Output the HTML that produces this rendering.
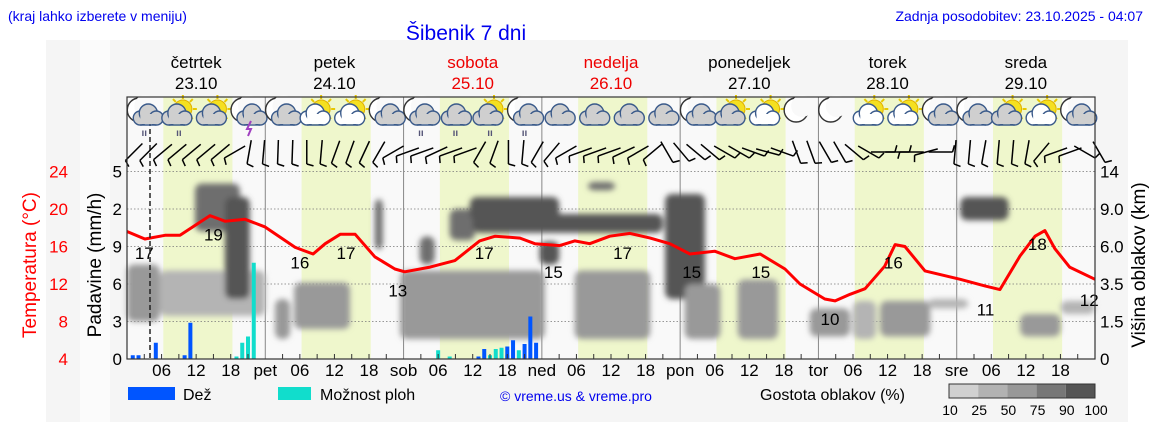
<!DOCTYPE html>
<html><head><meta charset="utf-8"><style>
html,body{margin:0;padding:0;background:#fff;}
svg{display:block;font-family:"Liberation Sans",sans-serif;}
</style></head><body>
<svg id="c" width="1152" height="443" viewBox="0 0 1152 443" xmlns="http://www.w3.org/2000/svg">
<defs><filter id="blur" x="-20%" y="-20%" width="140%" height="140%"><feGaussianBlur stdDeviation="3"/></filter></defs>
<rect x="46" y="40" width="1082" height="382" fill="#f5f5f5"/>
<rect x="80" y="40" width="30" height="382" fill="#fbfbfb"/>
<text x="8" y="21" font-size="14" fill="#0000ee">(kraj lahko izberete v meniju)</text>
<text x="466" y="40" font-size="21" fill="#0000ee" text-anchor="middle">Šibenik 7 dni</text>
<text x="1143" y="21" font-size="14" fill="#0000ee" text-anchor="end">Zadnja posodobitev: 23.10.2025 - 04:07</text>
<g id="plot"></g>
<text transform="translate(36,265) rotate(-90)" font-size="19" fill="#ff0000" text-anchor="middle">Temperatura (°C)</text>
<text transform="translate(101,265) rotate(-90)" font-size="19" fill="#000" text-anchor="middle">Padavine (mm/h)</text>
<text transform="translate(1145,265) rotate(-90)" font-size="19" fill="#000" text-anchor="middle">Višina oblakov (km)</text>
<g>
<rect x="128" y="387" width="47" height="13" fill="#0055ff"/>
<text x="183" y="400" font-size="16">Dež</text>
<rect x="278" y="387" width="33" height="13" fill="#11ddcc"/>
<text x="320" y="400" font-size="16">Možnost ploh</text>
<text x="500" y="401" font-size="14" fill="#0000ee">© vreme.us &amp; vreme.pro</text>
<text x="760" y="400" font-size="16">Gostota oblakov (%)</text>
<g id="cbar"></g>
</g>
</svg>
<script>
const NS="http://www.w3.org/2000/svg";
// ---- data ----
const days=["četrtek","petek","sobota","nedelja","ponedeljek","torek","sreda"];
const dates=["23.10","24.10","25.10","26.10","27.10","28.10","29.10"];
const dayAbbr=["","pet","sob","ned","pon","tor","sre"];
const tempHours=[0,3.1,6.6,9.2,14.4,17,20.5,23.9,29.2,32.3,34.4,37,39.6,43,46.5,48.2,52.6,56.9,61.2,63.9,68.2,70.8,75.1,77.7,80.3,83.8,87.3,90.8,94.2,97.7,102,105.5,109.9,114.2,116.8,121.1,122.9,125.5,128.1,131.5,133.3,135,138.5,144.6,148.9,151.5,155,157.6,159.3,161,163.6,168];
const tempValues=[17.6,16.8,17.2,17.2,19.3,18.7,18.9,18.1,15.9,15.2,16.3,17.3,17.3,14.9,13.6,13.3,13.8,14.5,16.6,17.1,16.9,16.3,16.1,16.6,16.3,17.1,17.4,16.9,16.3,15.2,15.5,14.7,15.2,13.6,12.0,10.4,10.2,10.9,11.5,13.9,16.2,16.0,13.4,12.5,11.8,11.4,15.0,17.1,17.7,15.8,13.8,12.5];
const labelHours=[3,15,30,38,47,62,74,86,98,110,122,133,149,158,167];
const labelTemps=[17,19,16,17,13,17,15,17,15,15,10,16,11,18,12];
const rainHours=[1,2,5,10,11,61,62,66,67,69,70,71];
const rainValues=[0.03,0.03,0.13,0.03,0.29,0.02,0.08,0.10,0.15,0.12,0.34,0.13];
const showerHours=[19,20,21,22,54,56,63,64,65,66,68];
const showerValues=[0.02,0.13,0.18,0.77,0.07,0.02,0.03,0.08,0.09,0.03,0.07];
const cloudH0=[0,5.7,11.8,17,25.7,29,43,47.4,50.8,56,59.5,60,93.4,80,71.6,77.7,96.8,106,118.5,126,130.7,139,144.6,155,162];
const cloudH1=[5.7,24,19.6,21.3,28.3,38.7,44.4,72.5,53.4,60.4,75,93,100.3,84.7,75,90.8,103,113,125.5,130,139.4,146,153,162,168];
const cloudK0=[1.5,1.8,7.2,2.7,0.8,1.2,5.8,0.8,4.8,6.5,8.1,7.1,2.7,11.5,4.8,0.8,0.8,0.8,0.9,0.8,0.9,2.2,8.1,0.9,1.9];
const cloudK1=[4.8,4.4,12.4,10.6,2.7,3.6,10.3,4.4,6.8,9.0,10.6,8.6,11.0,12.6,6.4,4.4,3.5,3.8,2.2,2.6,2.6,2.7,10.6,1.9,2.6];
const cloudD=[50,40,75,90,50,50,75,50,75,75,90,90,90,75,90,50,50,50,50,30,50,30,90,50,25];
const icons=["mcr","scr","sc","mct","mc","sw","sw","mc","mcr","cr","scr","mcr","c","c","c","c","mc","sc","sw","m","m","sw","sw","mc","mc","sc","sw","mc"];
const windDir=[135,135,140,140,140,140,140,150,100,95,92,92,90,95,110,110,115,120,150,160,160,155,160,160,120,110,90,95,120,130,150,160,160,160,155,150,140,60,50,40,40,30,30,20,15,20,70,70,60,60,40,30,0,0,180,165,0,95,95,100,95,95,100,130,160,160,30,60];
const precipTicks=["0","3","6","9","2","5"];
const tempTicks=[4,8,12,16,20,24];
const kmTicks=[0,1.5,3.5,6.0,9.0,14];
const cbarLabels=["10","25","50","75","90","100"];
// ---- axes ----
const X0=127,X1=1095,YB=359,YT=97,STEP=37.5;
const xH=h=>X0+h*(X1-X0)/168;
const yT=t=>YB-(t-4)*STEP/4;
const yP=v=>YB-v*125;
const yK=k=>{const ks=[0,1.5,3.5,6,9,14];for(let i=0;i<5;i++){if(k<=ks[i+1])return YB-(i+(k-ks[i])/(ks[i+1]-ks[i]))*STEP;}return YB-5*STEP-(k-14)*3;};
const dcol=d=>d>=90?"#555":d>=75?"#6e6e6e":d>=50?"#999":d>=25?"#b4b4b4":"#d2d2d2";
const P=document.getElementById('plot');
function mk(tag,attrs,parent){const e=document.createElementNS(NS,tag);for(const k in attrs)e.setAttribute(k,attrs[k]);(parent||P).appendChild(e);return e;}
let e;
e=mk('rect',{x:X0,y:YT,width:X1-X0,height:YB-YT,fill:"#f9f9f9"});


for(let d=0;d<7;d++){
 e=mk('rect',{x:xH(d*24+6.3),y:YT,width:xH(12)-xH(0),height:YB-YT,fill:"#eff7cc"});
 
 
}
for(let i=1;i<6;i++){
 e=mk('line',{x1:X0,x2:X1,y1:YB-i*STEP,y2:YB-i*STEP,stroke:"#777","stroke-dasharray":"1.5,2","stroke-width":0.8});
 
 
}
for(let d=1;d<7;d++){
 e=mk('line',{x1:xH(d*24),x2:xH(d*24),y1:YT,y2:YB,stroke:"#888","stroke-width":1});
 
 
}
// clouds
const cg=mk('g',{filter:"url(#blur)"});


for(let i=0;i<cloudH0.length;i++){
 e=mk('rect',{x:xH(cloudH0[i]),y:yK(cloudK1[i]),width:xH(cloudH1[i])-xH(cloudH0[i]),height:yK(cloudK0[i])-yK(cloudK1[i]),fill:dcol(cloudD[i]),rx:7},cg);
 
 
}
// bars
for(let i=0;i<showerHours.length;i++){
 e=mk('rect',{x:xH(showerHours[i])-2,y:yP(showerValues[i]),width:4,height:YB-yP(showerValues[i]),fill:"#11ddcc"});
 
 
}
for(let i=0;i<rainHours.length;i++){
 e=mk('rect',{x:xH(rainHours[i])-2,y:yP(rainValues[i]),width:4,height:YB-yP(rainValues[i]),fill:"#0055ff"});
 
 
}
// temperature
let dstr=tempHours.map((h,i)=>(i?"L":"M")+xH(h).toFixed(1)+","+yT(tempValues[i]).toFixed(1)).join("");
e=mk('path',{d:dstr,fill:"none",stroke:"#ff0000","stroke-width":3,"stroke-linejoin":"round"});


for(let i=0;i<labelHours.length;i++){
 e=mk('text',{x:xH(labelHours[i]),y:yT(labelTemps[i])+22,"font-size":17,"text-anchor":"middle"});
 e.textContent=labelTemps[i];
 
 
}
// now line
e=mk('line',{x1:150,x2:150,y1:YT,y2:YB,stroke:"#222","stroke-dasharray":"5,3","stroke-width":1.5});


// icons
icons.forEach((t,i)=>{
 const cx=xH(i*6+3),cy=113;
 const g=mk('g',{});
 
 
 if(t[0]=="m"){mk('circle',{cx:cx-5,cy:cy-3,r:12,fill:"#fff",stroke:"#333","stroke-width":1.4},g);mk('circle',{cx:cx+1,cy:cy-7,r:11,fill:"#f9f9f9"},g);}
 if(t[0]=="s"){for(let k=0;k<8;k++){const a=k*Math.PI/4;mk('line',{x1:cx+4+Math.cos(a)*10,y1:cy-4+Math.sin(a)*10,x2:cx+4+Math.cos(a)*14,y2:cy-4+Math.sin(a)*14,stroke:"#e8c800","stroke-width":2},g);}
  mk('circle',{cx:cx+4,cy:cy-4,r:9,fill:"#f5e020",stroke:"#e0b000","stroke-width":1},g);}
 if(t.includes("c")||t.includes("w")){const col=t.includes("w")?"#fff":"#cfcfcf";const ox=t[0]=="c"?0:(t[0]=="m"?3:-3);
  mk('circle',{cx:cx+ox-7,cy:cy+5,r:7,fill:col,stroke:"#3a5a8a","stroke-width":1.4},g);
  mk('circle',{cx:cx+ox+1,cy:cy,r:9,fill:col,stroke:"#3a5a8a","stroke-width":1.4},g);
  mk('circle',{cx:cx+ox+9,cy:cy+5,r:7,fill:col,stroke:"#3a5a8a","stroke-width":1.4},g);
  mk('rect',{x:cx+ox-7,y:cy+1,width:16,height:10,fill:col},g);
  mk('line',{x1:cx+ox-7,x2:cx+ox+9,y1:cy+12,y2:cy+12,stroke:"#3a5a8a","stroke-width":1.4},g);}
 if(t.includes("r"))mk('text',{x:cx,y:cy+23,"font-size":10,fill:"#557","text-anchor":"middle","font-weight":"bold"},g).textContent="ıı";
 if(t.includes("t"))mk('path',{d:`M${cx+3},${cy+8}l-4,8l4,0l-3,7`,stroke:"#a040c0",fill:"none","stroke-width":2},g);
});
// wind
windDir.forEach((a,i)=>{
 const cx=xH(i*2.5+1.2),cy=152,r=a*Math.PI/180,L=12;
 const dx=Math.cos(r)*L,dy=Math.sin(r)*L;
 const g=mk('g',{stroke:"#000","stroke-width":1.5,fill:"none"});
 
 
 mk('line',{x1:cx-dx,y1:cy-dy,x2:cx+dx,y2:cy+dy},g);
 mk('line',{x1:cx+dx,y1:cy+dy,x2:cx+dx+Math.cos(r-1.3)*7,y2:cy+dy+Math.sin(r-1.3)*7},g);
});
// frame
e=mk('rect',{x:X0,y:YT,width:X1-X0,height:YB-YT,fill:"none",stroke:"#333","stroke-width":1.2});


// day headers
for(let d=0;d<7;d++){
 const red=(d==2||d==3)?"#ee0000":"#000";
 e=mk('text',{x:xH(d*24+12),y:68,"font-size":17,"text-anchor":"middle",fill:red});e.textContent=days[d];
 
 
 e=mk('text',{x:xH(d*24+12),y:89,"font-size":17,"text-anchor":"middle",fill:red});e.textContent=dates[d];
 
 
 [0,6,12,18].forEach(h=>{
  const lab=h==0?dayAbbr[d]:String(h).padStart(2,"0");
  if(lab){e=mk('text',{x:xH(d*24+h),y:376,"font-size":17,"text-anchor":"middle"});e.textContent=lab;
  
  }
 });
 for(let h=3;h<24;h+=3){e=mk('line',{x1:xH(d*24+h),x2:xH(d*24+h),y1:YB,y2:YB-5,stroke:"#333"});
 
 }
}
// left/right ticks
for(let i=0;i<6;i++){
 const y=YB-i*STEP+6;
 e=mk('text',{x:68,y:y,"font-size":17,"text-anchor":"end",fill:"#ff0000"});e.textContent=tempTicks[i];
 
 
 e=mk('text',{x:122,y:y,"font-size":17,"text-anchor":"end"});e.textContent=precipTicks[i];
 
 
 e=mk('text',{x:1100,y:y,"font-size":17});e.textContent=(i==0||i==5)?String(kmTicks[i]):kmTicks[i].toFixed(1);
 
 
}
// color bar
const CB=document.getElementById('cbar');
["#d0d0d0","#b2b2b2","#989898","#777","#555"].forEach((c,i)=>{
 e=mk('rect',{x:949+i*29.2,y:384,width:29.2,height:14,fill:c},CB);
 
 
});
mk('rect',{x:949,y:384,width:146,height:14,fill:"none",stroke:"#333"},CB);
cbarLabels.forEach((l,i)=>{
 e=mk('text',{x:950+i*29.2,y:415,"font-size":14,"text-anchor":"middle"},CB);e.textContent=l;
 
 
});
</script>
</body></html>
